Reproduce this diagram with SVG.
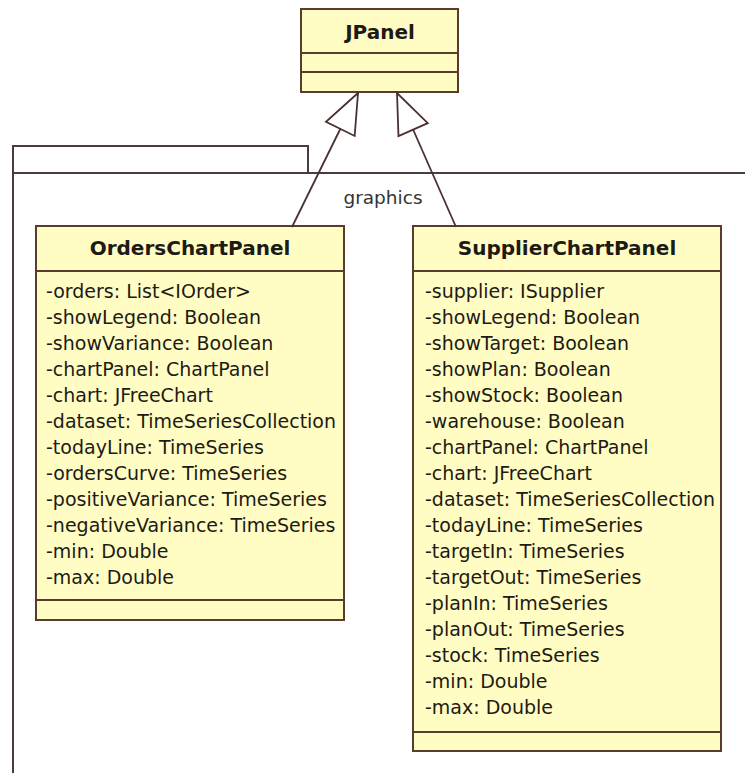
<svg xmlns="http://www.w3.org/2000/svg" width="745" height="773" viewBox="0 0 745 773">
<style>
.box{fill:#FFFDC4;stroke:#5A3C2C;stroke-width:2}
.div{stroke:#5A3C2C;stroke-width:2}
.pkg{fill:none;stroke:#4A3C3C;stroke-width:2}
.title{font-family:"DejaVu Sans",Tahoma,sans-serif;font-size:20px;font-weight:bold;fill:#1E1A14;text-anchor:middle}
.attr{font-family:"DejaVu Sans",Tahoma,sans-serif;font-size:19px;fill:#1E1A14}
.lbl{font-family:"DejaVu Sans",Tahoma,sans-serif;font-size:18.5px;fill:#333;text-anchor:middle}
.conn{stroke:#4A3030;stroke-width:1.8;fill:none;marker-end:url(#tri)}
</style>
<defs>
<marker id="tri" markerUnits="userSpaceOnUse" viewBox="-43 -19 46 38" markerWidth="46" markerHeight="38" refX="0" refY="0" orient="auto">
<path d="M0,0 L-40,-16 L-40,16 Z" fill="#FFFFFF" stroke="#4A3030" stroke-width="1.8"/>
</marker>
</defs>
<rect width="745" height="773" fill="#FFFFFF"/>
<g id="package-graphics">
<path class="pkg" d="M13,773 V146 H308 V173"/>
<path class="pkg" d="M13,173 H745"/>
<text class="lbl" x="383" y="204">graphics</text>
</g>
<g id="JPanel">
<rect class="box" x="301" y="9" width="157" height="83"/>
<line class="div" x1="301" y1="53" x2="458" y2="53"/>
<line class="div" x1="301" y1="72" x2="458" y2="72"/>
<text class="title" x="380" y="39">JPanel</text>
</g>
<g id="OrdersChartPanel">
<rect class="box" x="36" y="226" width="308" height="394"/>
<line class="div" x1="36" y1="271" x2="344" y2="271"/>
<line class="div" x1="36" y1="600" x2="344" y2="600"/>
<text class="title" x="190" y="255">OrdersChartPanel</text>
<text class="attr" x="46" y="298">-orders: List&lt;IOrder&gt;</text>
<text class="attr" x="46" y="324">-showLegend: Boolean</text>
<text class="attr" x="46" y="350">-showVariance: Boolean</text>
<text class="attr" x="46" y="376">-chartPanel: ChartPanel</text>
<text class="attr" x="46" y="402">-chart: JFreeChart</text>
<text class="attr" x="46" y="428">-dataset: TimeSeriesCollection</text>
<text class="attr" x="46" y="454">-todayLine: TimeSeries</text>
<text class="attr" x="46" y="480">-ordersCurve: TimeSeries</text>
<text class="attr" x="46" y="506">-positiveVariance: TimeSeries</text>
<text class="attr" x="46" y="532">-negativeVariance: TimeSeries</text>
<text class="attr" x="46" y="558">-min: Double</text>
<text class="attr" x="46" y="584">-max: Double</text>
</g>
<g id="SupplierChartPanel">
<rect class="box" x="413" y="226" width="308" height="525"/>
<line class="div" x1="413" y1="271" x2="721" y2="271"/>
<line class="div" x1="413" y1="732" x2="721" y2="732"/>
<text class="title" x="567" y="255">SupplierChartPanel</text>
<text class="attr" x="425" y="298">-supplier: ISupplier</text>
<text class="attr" x="425" y="324">-showLegend: Boolean</text>
<text class="attr" x="425" y="350">-showTarget: Boolean</text>
<text class="attr" x="425" y="376">-showPlan: Boolean</text>
<text class="attr" x="425" y="402">-showStock: Boolean</text>
<text class="attr" x="425" y="428">-warehouse: Boolean</text>
<text class="attr" x="425" y="454">-chartPanel: ChartPanel</text>
<text class="attr" x="425" y="480">-chart: JFreeChart</text>
<text class="attr" x="425" y="506">-dataset: TimeSeriesCollection</text>
<text class="attr" x="425" y="532">-todayLine: TimeSeries</text>
<text class="attr" x="425" y="558">-targetIn: TimeSeries</text>
<text class="attr" x="425" y="584">-targetOut: TimeSeries</text>
<text class="attr" x="425" y="610">-planIn: TimeSeries</text>
<text class="attr" x="425" y="636">-planOut: TimeSeries</text>
<text class="attr" x="425" y="662">-stock: TimeSeries</text>
<text class="attr" x="425" y="688">-min: Double</text>
<text class="attr" x="425" y="714">-max: Double</text>
</g>
<g id="connectors">
<line class="conn" x1="292" y1="227" x2="358" y2="93"/>
<line class="conn" x1="456" y1="227" x2="397" y2="93"/>
</g>
</svg>
